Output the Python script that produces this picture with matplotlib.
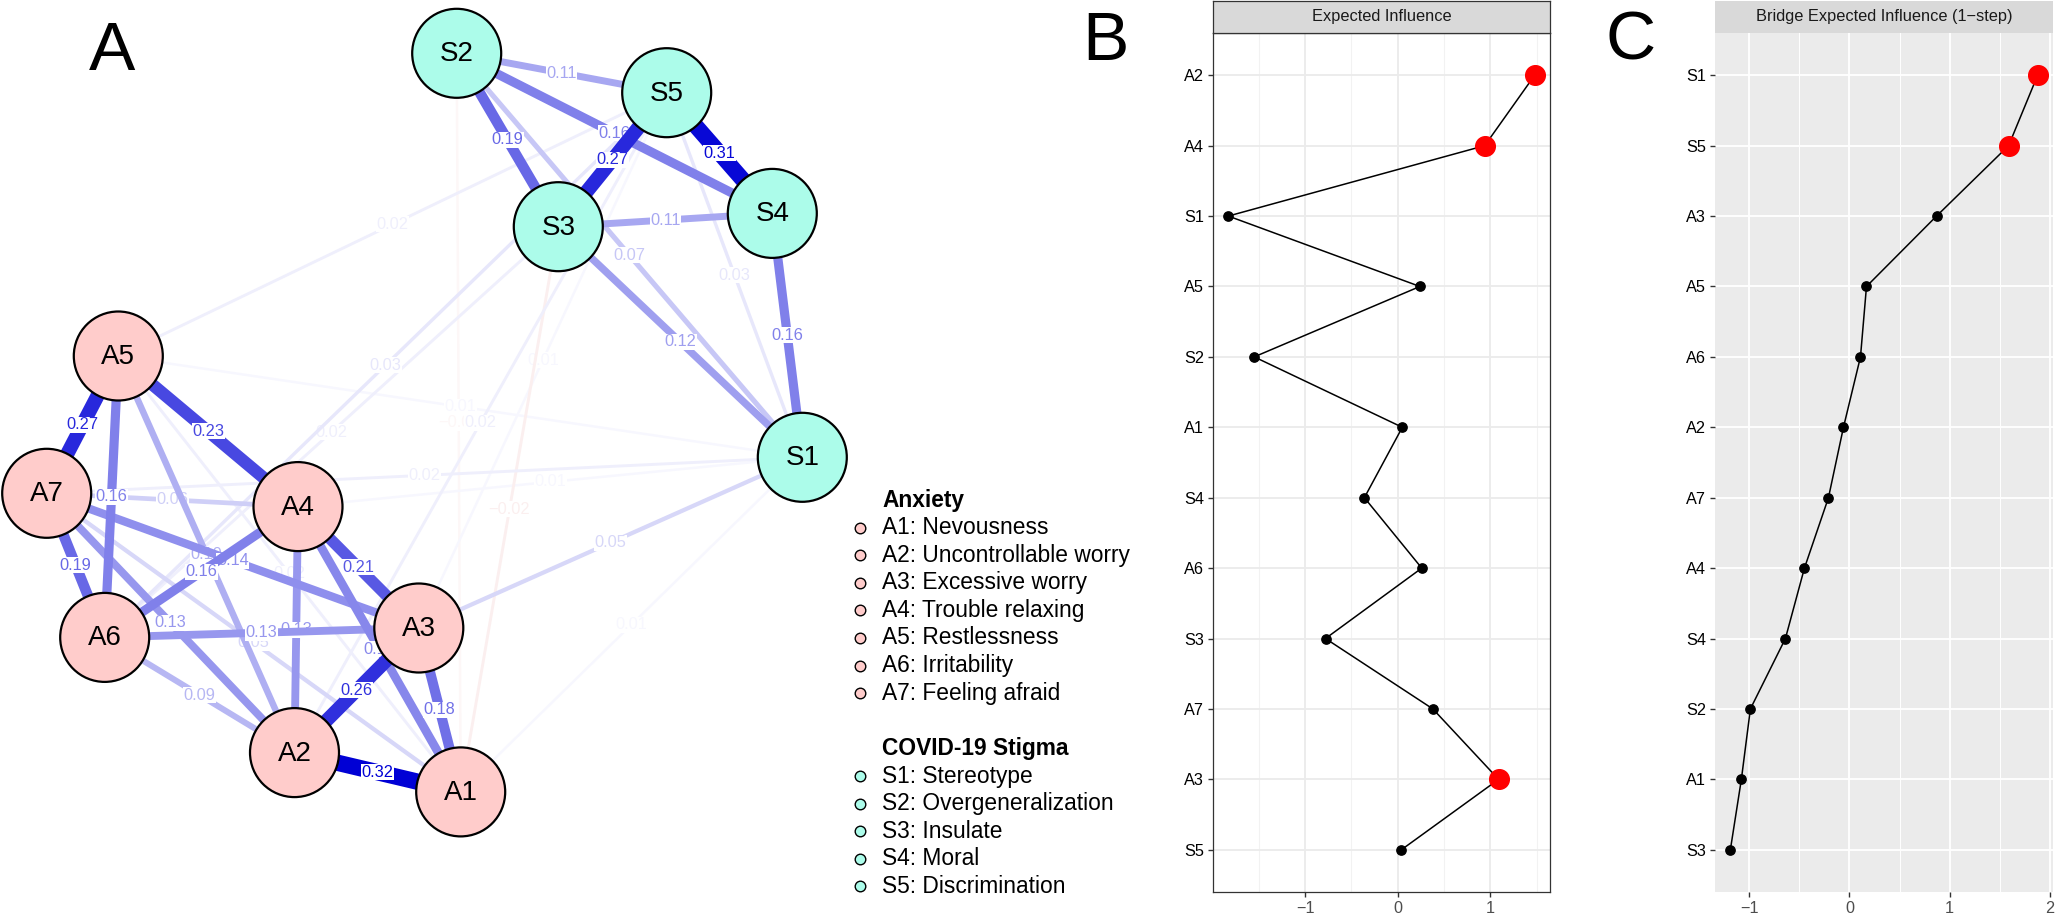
import matplotlib
matplotlib.use('Agg')
import matplotlib.pyplot as plt
from matplotlib.patches import Circle
import numpy as np

plt.rcParams['font.family'] = ['Liberation Sans', 'DejaVu Sans']

W, H = 2056, 915

# -------- network (panel A) -------- #
node_names = ['A1', 'A2', 'A3', 'A4', 'A5', 'A6', 'A7', 'S1', 'S2', 'S3', 'S4', 'S5']
node_group = ['Anxiety'] * 7 + ['Stigma'] * 5
# layout (pixel units of the original figure, y downwards)
node_x = [460.7, 294.5, 418.8, 298.0, 118.3, 104.7, 46.7, 802.3, 456.7, 558.3, 772.3, 666.7]
node_y = [791.9, 752.6, 628.0, 506.6, 356.0, 637.4, 493.3, 457.3, 53.3, 226.7, 213.4, 92.7]

edge_from = ['A1', 'A5', 'A2', 'A4', 'A3', 'A6', 'A1', 'A5', 'A4', 'A3', 'A2', 'A2', 'A3',
             'A2', 'A1', 'A2', 'A4', 'A1', 'A1',
             'S4', 'S3', 'S2', 'S2', 'S1', 'S3', 'S2', 'S3', 'S2', 'S5',
             'S5', 'S5', 'S3', 'S2', 'S5', 'S5', 'S1', 'S1', 'S1', 'S1', 'S1', 'S3']
edge_to = ['A2', 'A7', 'A3', 'A5', 'A4', 'A7', 'A3', 'A6', 'A6', 'A7', 'A4', 'A7', 'A6',
           'A5', 'A4', 'A6', 'A7', 'A7', 'A5',
           'S5', 'S5', 'S3', 'S4', 'S4', 'S1', 'S5', 'S4', 'S1', 'S1',
           'A5', 'A6', 'A1', 'A1', 'A3', 'A2', 'A5', 'A7', 'A4', 'A3', 'A1', 'A6']
edge_w = [0.32, 0.27, 0.26, 0.23, 0.21, 0.19, 0.18, 0.16, 0.16, 0.14, 0.13, 0.13, 0.13,
          0.10, 0.15, 0.09, 0.06, 0.05, 0.02,
          0.31, 0.27, 0.19, 0.16, 0.16, 0.12, 0.11, 0.11, 0.07, 0.03,
          0.02, 0.03, -0.02, -0.01, 0.01, 0.02, 0.01, 0.02, 0.01, 0.05, 0.01, 0.02]

legend_anx = ['A1: Nevousness', 'A2: Uncontrollable worry', 'A3: Excessive worry',
              'A4: Trouble relaxing', 'A5: Restlessness', 'A6: Irritability', 'A7: Feeling afraid']
legend_stig = ['S1: Stereotype', 'S2: Overgeneralization', 'S3: Insulate', 'S4: Moral',
               'S5: Discrimination']

# -------- centrality (panels B, C) -------- #
ei_labels = ['A2', 'A4', 'S1', 'A5', 'S2', 'A1', 'S4', 'A6', 'S3', 'A7', 'A3', 'S5']
ei_values = [1.48, 0.94, -1.83, 0.24, -1.55, 0.05, -0.36, 0.26, -0.78, 0.38, 1.09, 0.04]
ei_top = ['A2', 'A4', 'A3']

bei_labels = ['S1', 'S5', 'A3', 'A5', 'A6', 'A2', 'A7', 'A4', 'S4', 'S2', 'A1', 'S3']
bei_values = [1.88, 1.59, 0.87, 0.17, 0.11, -0.06, -0.21, -0.45, -0.64, -0.99, -1.08, -1.19]
bei_top = ['S1', 'S5']

fill = {'Anxiety': '#FFCCCB', 'Stigma': '#ACFCEA'}
pos_col = np.array([0, 0, 213]) / 255
neg_col = np.array([191, 0, 0]) / 255

fig = plt.figure(figsize=(W / 100, H / 100), dpi=100)


def px_axes(l, t, r, b):
    return fig.add_axes([l / W, 1 - b / H, (r - l) / W, (b - t) / H])


ax = px_axes(0, 0, 1210, H)
ax.set_xlim(0, 1210)
ax.set_ylim(H, 0)
ax.axis('off')

idx = {n: i for i, n in enumerate(node_names)}
wmax = max(abs(w) for w in edge_w)
order = np.argsort(np.abs(edge_w), kind='stable')
for k, e in enumerate(order):
    a, b, w = idx[edge_from[e]], idx[edge_to[e]], edge_w[e]
    alpha = abs(w) / wmax
    base = pos_col if w > 0 else neg_col
    col = tuple(1 - alpha * (1 - base))
    lw = (2 + 45 * abs(w)) * 0.72
    z = 1 + k * 0.02
    ax.plot([node_x[a], node_x[b]], [node_y[a], node_y[b]], color=col, lw=lw,
            solid_capstyle='butt', zorder=z)
    mx, my = (node_x[a] + node_x[b]) / 2, (node_y[a] + node_y[b]) / 2
    ax.text(mx, my, f'{w:.2f}'.replace('-', '\u2212'), color=col, fontsize=11.8,
            ha='center', va='center', zorder=z + 0.01,
            bbox=dict(boxstyle='square,pad=0.03', fc='white', ec='none'))

for i, n in enumerate(node_names):
    ax.add_patch(Circle((node_x[i], node_y[i]), 44.5, fc=fill[node_group[i]], ec='black',
                        lw=1.6, zorder=100))
    ax.text(node_x[i], node_y[i] + 1, n, fontsize=20, ha='center', va='center', zorder=101)

# legend
y0, step = 500, 27.6
ax.text(882, y0, 'Anxiety', fontsize=16.4, fontweight='bold', va='center')
for j, t in enumerate(legend_anx):
    yy = y0 + step * (j + 1)
    ax.scatter([860], [yy], s=58, c=fill['Anxiety'], edgecolors='black', linewidths=1, zorder=5)
    ax.text(882, yy, t, fontsize=16.4, va='center')
y1 = y0 + step * 9
ax.text(882, y1, 'COVID-19 Stigma', fontsize=16.4, fontweight='bold', va='center')
for j, t in enumerate(legend_stig):
    yy = y1 + step * (j + 1)
    ax.scatter([860], [yy], s=58, c=fill['Stigma'], edgecolors='black', linewidths=1, zorder=5)
    ax.text(882, yy, t, fontsize=16.4, va='center')


def centrality_panel(l, r, labels, values, top, title, bw):
    n = len(labels)
    ypos = np.arange(n, 0, -1)
    pax = px_axes(l, 33, r, 892)
    sax = px_axes(l, 1, r, 33)
    vmin, vmax = min(values), max(values)
    pad = 0.05 * (vmax - vmin)
    pax.set_xlim(vmin - pad, vmax + pad)
    pax.set_ylim(0.4, n + 0.6)
    pax.plot(values, ypos, color='black', lw=1.1, zorder=3)
    small = [i for i in range(n) if labels[i] not in top]
    big = [i for i in range(n) if labels[i] in top]
    pax.scatter([values[i] for i in small], [ypos[i] for i in small], s=45, c='black', zorder=4)
    pax.scatter([values[i] for i in big], [ypos[i] for i in big], s=200, c='#FF0000', zorder=4)
    pax.set_yticks(ypos)
    pax.set_yticklabels(labels)
    ticks = [t for t in range(-3, 4) if vmin - pad <= t <= vmax + pad]
    minors = [t + 0.5 for t in range(-3, 3) if vmin - pad <= t + 0.5 <= vmax + pad]
    pax.set_xticks(ticks)
    pax.set_xticks(minors, minor=True)
    pax.tick_params(axis='both', which='major', length=3.6, width=1, color='#333333',
                    labelsize=11.7, pad=3)
    pax.tick_params(axis='y', labelcolor='black')
    pax.tick_params(axis='x', labelcolor='#4D4D4D')
    pax.tick_params(axis='x', which='minor', length=0)
    pax.set_axisbelow(True)
    sax.set_xticks([])
    sax.set_yticks([])
    sax.text(0.5, 0.5, title, transform=sax.transAxes, ha='center', va='center',
             fontsize=11.8, color='#1A1A1A')
    sax.set_facecolor('#D9D9D9')
    if bw:
        pax.set_facecolor('white')
        pax.grid(True, which='major', color='#EBEBEB', lw=1.3)
        pax.grid(True, which='minor', axis='x', color='#F2F2F2', lw=0.8)
        for s in pax.spines.values():
            s.set_color('#333333')
            s.set_linewidth(0.9)
        for s in sax.spines.values():
            s.set_color('#333333')
            s.set_linewidth(0.9)
    else:
        pax.set_facecolor('#EBEBEB')
        pax.grid(True, which='major', color='white', lw=1.3)
        pax.grid(True, which='minor', axis='x', color='white', lw=0.7)
        for s in pax.spines.values():
            s.set_visible(False)
        for s in sax.spines.values():
            s.set_visible(False)


centrality_panel(1213, 1550, ei_labels, ei_values, ei_top, 'Expected Influence', True)
centrality_panel(1715, 2053, bei_labels, bei_values, bei_top,
                 'Bridge Expected Influence (1\u2212step)', False)

fig.text(112 / W, 1 - 52 / H, 'A', fontsize=50, ha='center', va='center')
fig.text(1105 / W, 1 - 42 / H, 'B', fontsize=50, ha='center', va='center')
fig.text(1631 / W, 1 - 42 / H, 'C', fontsize=50, ha='center', va='center')

fig.savefig('out.png', dpi=100, facecolor='white')
